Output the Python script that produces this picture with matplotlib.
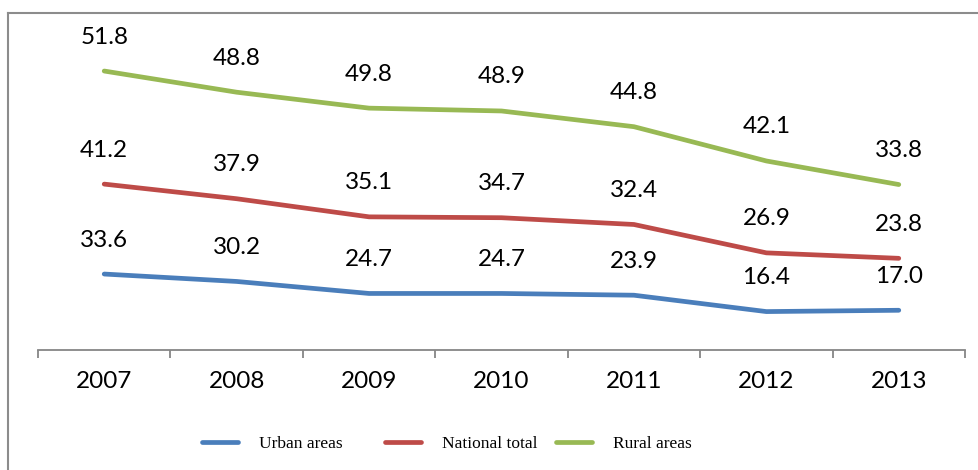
import numpy as np
import matplotlib.pyplot as plt
from matplotlib.lines import Line2D

years = ['2007', '2008', '2009', '2010', '2011', '2012', '2013']
urban = [33.6, 30.2, 24.7, 24.7, 23.9, 16.4, 17.0]
national = [41.2, 37.9, 35.1, 34.7, 32.4, 26.9, 23.8]
rural = [51.8, 48.8, 49.8, 48.9, 44.8, 42.1, 33.8]

series_names = ['Urban areas', 'National total', 'Rural areas']
colors = ['#4A7EBB', '#BE4B48', '#98B954']

fig = plt.figure(figsize=(9.79, 4.70), dpi=100)
W, H = 979, 470
ax = fig.add_axes([38 / W, 1 - 350 / H, (965 - 38) / W, (350 - 42) / H])

x = np.arange(len(years))
# stacked line chart: each line sits on top of the previous one
base = np.zeros(len(years))
handles = []
for vals, name, col in zip([urban, national, rural], series_names, colors):
    top = base + np.array(vals)
    ln, = ax.plot(x, top, color=col, linewidth=3.4, solid_capstyle='round', label=name)
    handles.append(ln)
    for xi, yi, v in zip(x, top, vals):
        ax.annotate('%.1f' % v, (xi, yi), xytext=(0, 24.5), textcoords='offset points',
                    ha='center', va='center', fontsize=17.5, family='Lato',
                    annotation_clip=False)
    base = top

ax.set_xlim(-0.5, len(years) - 0.5)
ax.set_ylim(-1.2, 139.9)

for s in ['top', 'right', 'left']:
    ax.spines[s].set_visible(False)
ax.spines['bottom'].set_color('#868686')
ax.spines['bottom'].set_linewidth(1.3)
ax.set_yticks([])

ax.set_xticks(np.arange(-0.5, len(years), 1.0))
ax.set_xticklabels([])
ax.tick_params(axis='x', which='major', direction='out', length=6, width=1.3, color='#868686')
ax.set_xticks(x, minor=True)
ax.set_xticklabels(years, minor=True, fontsize=17.5, family='Lato')
ax.tick_params(axis='x', which='minor', length=0, pad=15)

# one legend box per entry, spread like the original
legend_x = [202, 385, 556]
for h, name, lx in zip(handles, series_names, legend_x):
    fig.legend(handles=[h], labels=[name], loc='center left',
               bbox_to_anchor=(lx / W, 1 - 444 / H), frameon=False,
               handlelength=2.1, handletextpad=1.2, borderpad=0, borderaxespad=0,
               prop={'family': 'Liberation Serif', 'size': 12.5})

# outer frame of the chart (top and left edges visible)
fig.add_artist(Line2D([8 / W, 8 / W], [0, 1 - 13 / H], color='#8C8C8C', linewidth=1.5,
                      transform=fig.transFigure))
fig.add_artist(Line2D([8 / W, 1], [1 - 13 / H, 1 - 13 / H], color='#8C8C8C', linewidth=1.5,
                      transform=fig.transFigure))

fig.savefig('out.png', dpi=100)
